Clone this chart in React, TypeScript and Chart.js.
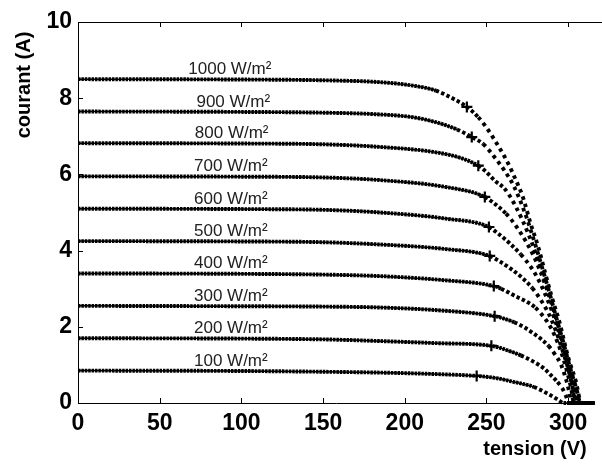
import { useEffect, useRef } from "react";
import { Chart, registerables } from "chart.js";

Chart.register(...registerables);

// Irradiance levels of the simulated PV array (W/m²)
const irradiance = [100, 200, 300, 400, 500, 600, 700, 800, 900, 1000];

// I–V characteristics: [tension (V), courant (A)]
const curve100 = [[0, 0.85], [100, 0.84], [150, 0.82], [182, 0.8], [215, 0.765], [244, 0.71], [255, 0.66], [267, 0.55], [279, 0.42], [289.4, 0.2], [294, 0.08], [297.2, 0], [316, 0]];
const curve200 = [[0, 1.7], [100, 1.69], [150, 1.67], [182, 1.63], [220, 1.57], [253, 1.5], [263, 1.38], [271, 1.25], [279, 1.08], [285.4, 0.9], [289.4, 0.73], [293.5, 0.55], [296.5, 0.38], [298.5, 0.2], [300.5, 0], [316, 0]];
const curve300 = [[0, 2.55], [100, 2.54], [150, 2.53], [182, 2.51], [225, 2.42], [255, 2.28], [261, 2.21], [267, 2.12], [273, 1.99], [279, 1.82], [284, 1.66], [288, 1.5], [292, 1.27], [295.5, 1.02], [298.5, 0.65], [300.5, 0.32], [302.2, 0], [316, 0]];
const curve400 = [[0, 3.4], [100, 3.39], [150, 3.37], [185, 3.33], [225, 3.22], [254.5, 3.07], [259, 3.0], [267, 2.82], [275, 2.65], [280, 2.5], [285, 2.26], [288, 2.08], [292, 1.75], [296, 1.3], [299.5, 0.8], [302, 0.35], [303.5, 0], [316, 0]];
const curve500 = [[0, 4.25], [100, 4.24], [150, 4.22], [185, 4.16], [225, 4.04], [252, 3.86], [258, 3.72], [265, 3.52], [272, 3.28], [278, 3.02], [283, 2.72], [288, 2.35], [292, 1.95], [296, 1.45], [300, 0.9], [302.5, 0.45], [304.5, 0], [316, 0]];
const curve600 = [[0, 5.1], [100, 5.09], [150, 5.07], [185, 5.0], [225, 4.84], [251.5, 4.62], [257, 4.45], [264, 4.2], [271, 3.9], [277, 3.58], [282, 3.22], [286, 2.85], [290, 2.42], [294, 1.9], [298, 1.3], [301.5, 0.7], [305.4, 0], [316, 0]];
const curve700 = [[0, 5.95], [100, 5.94], [150, 5.92], [185, 5.85], [225, 5.67], [249, 5.41], [255, 5.23], [262, 4.97], [268, 4.65], [274, 4.25], [279, 3.85], [283, 3.45], [287, 2.98], [291, 2.45], [295, 1.85], [299, 1.2], [303, 0.55], [306.2, 0], [316, 0]];
const curve800 = [[0, 6.82], [100, 6.81], [150, 6.79], [185, 6.72], [219, 6.58], [235, 6.42], [245, 6.23], [249, 6.1], [255, 5.84], [261, 5.63], [264.2, 5.44], [268, 5.15], [272, 4.8], [276, 4.4], [280, 3.95], [284, 3.45], [288, 2.9], [292, 2.3], [296, 1.7], [300, 1.1], [304, 0.5], [307, 0], [316, 0]];
const curve900 = [[0, 7.65], [100, 7.64], [150, 7.62], [182, 7.58], [205, 7.5], [219, 7.37], [232, 7.18], [241, 6.98], [248, 6.8], [255, 6.45], [261, 6.1], [267, 5.67], [273, 5.05], [277, 4.55], [281, 4.0], [285, 3.42], [289, 2.82], [293, 2.2], [297, 1.6], [301, 0.95], [305, 0.38], [307.6, 0], [316, 0]];
const curve1000 = [[0, 8.5], [100, 8.49], [150, 8.47], [185, 8.42], [205, 8.33], [219, 8.2], [230, 7.98], [238, 7.77], [245, 7.5], [250, 7.23], [257, 6.76], [263, 6.31], [268, 5.85], [272, 5.44], [277, 4.71], [282, 4.05], [286, 3.4], [290, 2.78], [294.5, 2.15], [300, 1.2], [304.5, 0.6], [308.2, 0], [316, 0]];

const curves = [curve100, curve200, curve300, curve400, curve500, curve600, curve700, curve800, curve900, curve1000];

// Maximum power points, one per irradiance level
const mppV = [244, 253, 255, 254.5, 252, 251.5, 249, 245, 241, 238];
const mppI = [0.71, 1.5, 2.28, 3.07, 3.86, 4.62, 5.41, 6.23, 6.98, 7.77];

const xTicks = [0, 50, 100, 150, 200, 250, 300];
const yTicks = [0, 2, 4, 6, 8, 10];

// Where each irradiance label starts along the tension axis
const labelAnchorV = [71, 71, 71, 71, 71, 71, 71, 71.5, 72.5, 67.5];

const FONT = "'Liberation Sans', Arial, Helvetica, sans-serif";

function slopeOf(ctx: any) {
  const dx = Math.abs(ctx.p1.x - ctx.p0.x) || 0.001;
  return Math.abs(ctx.p1.y - ctx.p0.y) / dx;
}

// Dense beads on the plateau, spaced dots on the falling part
function beadDash(ctx: any) {
  const s = slopeOf(ctx);
  if (s > 1.1) return [3.6, 4.0];
  if (s > 0.45) return [3.4, 2.4];
  return [2.5, 0.9];
}

const decorPlugin = {
  id: "decor",
  afterDraw(chart: any) {
    const { ctx, chartArea: a, scales } = chart;
    const x = scales.x;
    const y = scales.y;
    ctx.save();
    ctx.strokeStyle = "#000";
    ctx.lineWidth = 1;
    ctx.beginPath();
    ctx.moveTo(a.left, a.top + 0.5);
    ctx.lineTo(chart.width, a.top + 0.5);
    xTicks.forEach((v) => {
      if (v === 0) return;
      const px = Math.round(x.getPixelForValue(v)) + 0.5;
      ctx.moveTo(px, a.bottom);
      ctx.lineTo(px, a.bottom - 5);
      ctx.moveTo(px, a.top);
      ctx.lineTo(px, a.top + 5);
    });
    yTicks.forEach((v) => {
      if (v === 0 || v === 10) return;
      const py = Math.round(y.getPixelForValue(v)) + 0.5;
      ctx.moveTo(a.left, py);
      ctx.lineTo(a.left + 5, py);
    });
    ctx.stroke();

    // irradiance labels above each plateau
    ctx.fillStyle = "#222";
    ctx.font = `17px ${FONT}`;
    ctx.textAlign = "left";
    ctx.textBaseline = "alphabetic";
    irradiance.forEach((g, i) => {
      const px = x.getPixelForValue(labelAnchorV[i]);
      const py = y.getPixelForValue(curves[i][0][1]) - 5;
      ctx.fillText(`${g} W/m²`, px, py);
    });

    // axis titles
    ctx.fillStyle = "#000";
    ctx.font = `bold 20px ${FONT}`;
    ctx.textAlign = "center";
    ctx.textBaseline = "middle";
    ctx.fillText("tension (V)", 535, 449);
    ctx.translate(24, 85);
    ctx.rotate(-Math.PI / 2);
    ctx.fillText("courant (A)", 0, 0);
    ctx.restore();
  },
};

export default function App() {
  const ref = useRef<HTMLCanvasElement | null>(null);

  useEffect(() => {
    if (!ref.current) return;
    const lineSets = curves.map((c) => ({
      type: "line" as const,
      data: c.map(([v, i]) => ({ x: v, y: i })),
      borderColor: "#000",
      borderWidth: 3.9,
      pointRadius: 0,
      fill: false,
      cubicInterpolationMode: "monotone" as const,
      clip: false as const,
      segment: { borderDash: beadDash },
    }));
    const threadSets = curves.map((c) => ({
      type: "line" as const,
      data: c.map(([v, i]) => ({ x: v, y: i })),
      borderColor: "#000",
      borderWidth: 1.5,
      pointRadius: 0,
      fill: false,
      cubicInterpolationMode: "monotone" as const,
      clip: false as const,
      segment: {
        borderColor: (ctx: any) => (slopeOf(ctx) > 0.45 ? "rgba(0,0,0,0)" : "#000"),
      },
    }));
    const mppSet = {
      type: "scatter" as const,
      data: mppV.map((v, i) => ({ x: v, y: mppI[i] })),
      pointStyle: "cross",
      pointRadius: 5.5,
      pointBorderWidth: 2.2,
      borderColor: "#000",
      backgroundColor: "#000",
      showLine: false,
    };

    const chart = new Chart(ref.current, {
      type: "line",
      data: { datasets: [...threadSets, ...lineSets, mppSet] as any },
      plugins: [decorPlugin],
      options: {
        responsive: false,
        animation: false,
        devicePixelRatio: 1,
        layout: { padding: { top: 22, right: 1, bottom: 0, left: 0 } },
        plugins: { legend: { display: false }, tooltip: { enabled: false } },
        scales: {
          x: {
            type: "linear",
            min: 0,
            max: 316,
            afterFit: (axis: any) => {
              axis.height = 62;
            },
            afterBuildTicks: (axis: any) => {
              axis.ticks = xTicks.map((v) => ({ value: v }));
            },
            grid: { display: false, drawTicks: false },
            border: { display: true, color: "#000", width: 1 },
            ticks: {
              autoSkip: false,
              maxRotation: 0,
              padding: 7,
              color: "#000",
              font: { family: FONT, size: 23, weight: "bold" },
            },
          },
          y: {
            type: "linear",
            min: 0,
            max: 10,
            afterFit: (axis: any) => {
              axis.width = 78;
            },
            afterBuildTicks: (axis: any) => {
              axis.ticks = yTicks.map((v) => ({ value: v }));
            },
            grid: { display: false, drawTicks: false },
            border: { display: true, color: "#000", width: 1 },
            ticks: {
              autoSkip: false,
              padding: 6,
              color: "#000",
              font: { family: FONT, size: 23, weight: "bold" },
            },
          },
        },
      },
    });
    return () => chart.destroy();
  }, []);

  return (
    <div style={{ position: "fixed", left: 0, top: 0, width: 602, height: 465, background: "#fff" }}>
      <canvas ref={ref} width={602} height={465} style={{ width: 602, height: 465, display: "block" }} />
    </div>
  );
}
